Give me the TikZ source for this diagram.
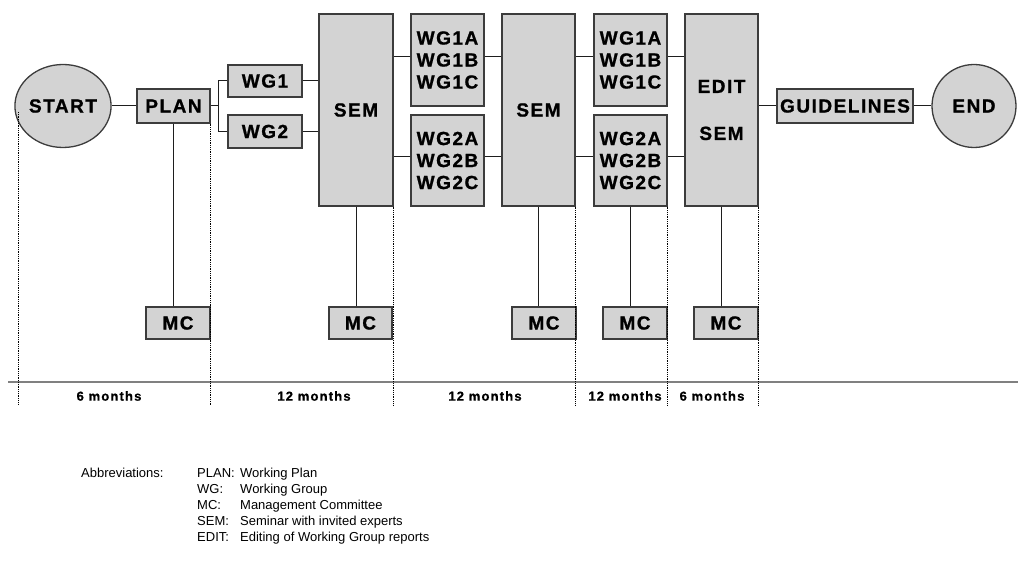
\documentclass[tikz,border=0pt]{standalone}
\usepackage{fontspec}
\setmainfont{Liberation Sans}
\newfontfamily\boxfont[LetterSpace=8,FakeBold=1]{Liberation Sans Bold}
\newfontfamily\monthfont[LetterSpace=9,FakeBold=0.8]{Liberation Sans Bold}
\usetikzlibrary{shapes.geometric}
\definecolor{boxfill}{RGB}{211,211,211}
\definecolor{boxline}{RGB}{60,60,60}
\definecolor{conn}{RGB}{30,30,30}
\definecolor{tline}{RGB}{128,128,128}
\tikzset{
  box/.style={draw=boxline, fill=boxfill, line width=1.3pt, inner sep=0pt,
    font=\boxfont\fontsize{19}{22}\selectfont, align=center, text=black},
  oval/.style={box, ellipse},
  conline/.style={draw=conn, line width=1pt},
  dotline/.style={draw=black, line width=0.8pt, dash pattern=on 0.9pt off 0.9pt},
  monthlbl/.style={font=\monthfont\fontsize{13}{14}\selectfont, inner sep=0pt},
}
\begin{document}
\begin{tikzpicture}[x=1pt, y=-1pt]
\useasboundingbox (0,0) rectangle (1018,569);
% main nodes
\node[oval, minimum width=92pt, minimum height=83pt] (start) at (63,106) {START};
\node[box, minimum width=73pt, minimum height=34pt] (plan) at (173.5,106) {PLAN};
\node[box, minimum width=74pt, minimum height=32pt] (wg1) at (265,81) {WG1};
\node[box, minimum width=74pt, minimum height=33pt] (wg2) at (265,131.5) {WG2};
\node[box, minimum width=74pt, minimum height=192pt] (sem1) at (356,110) {SEM};
\node[box, minimum width=73pt, minimum height=92pt] (wg1a) at (447.5,60) {WG1A\\WG1B\\WG1C};
\node[box, minimum width=73pt, minimum height=91pt] (wg2a) at (447.5,160.5) {WG2A\\WG2B\\WG2C};
\node[box, minimum width=73pt, minimum height=192pt] (sem2) at (538.5,110) {SEM};
\node[box, minimum width=73pt, minimum height=92pt] (wg1b) at (630.5,60) {WG1A\\WG1B\\WG1C};
\node[box, minimum width=73pt, minimum height=91pt] (wg2b) at (630.5,160.5) {WG2A\\WG2B\\WG2C};
\node[box, minimum width=73pt, minimum height=192pt] (edit) at (721.5,110) {EDIT\\[25pt]SEM};
\node[box, minimum width=136pt, minimum height=34pt] (guide) at (845,106) {GUIDELINES};
\node[oval, minimum width=84pt, minimum height=83pt] (end) at (974,106) {END};
% MC boxes
\node[box, minimum width=64pt, minimum height=32pt] (mc1) at (178,323) {MC};
\node[box, minimum width=63pt, minimum height=32pt] (mc2) at (360.5,323) {MC};
\node[box, minimum width=64pt, minimum height=32pt] (mc3) at (544,323) {MC};
\node[box, minimum width=64pt, minimum height=32pt] (mc4) at (635,323) {MC};
\node[box, minimum width=64pt, minimum height=32pt] (mc5) at (726,323) {MC};
% connectors
\draw[conline] (start.east) -- (plan.west);
\draw[conline] (plan.east) -- ++(8,0) coordinate (fork) |- (wg1.west);
\draw[conline] (fork) |- (wg2.west);
\draw[conline] (wg1.east) -- (wg1.east -| sem1.west);
\draw[conline] (wg2.east) -- (wg2.east -| sem1.west);
\draw[conline] ([yshift=3pt]wg1a.west) -- ([yshift=3pt]wg1a.west -| sem1.east);
\draw[conline] ([yshift=4pt]wg2a.west) -- ([yshift=4pt]wg2a.west -| sem1.east);
\draw[conline] ([yshift=3pt]wg1a.east) -- ([yshift=3pt]wg1a.east -| sem2.west);
\draw[conline] ([yshift=4pt]wg2a.east) -- ([yshift=4pt]wg2a.east -| sem2.west);
\draw[conline] ([yshift=3pt]wg1b.west) -- ([yshift=3pt]wg1b.west -| sem2.east);
\draw[conline] ([yshift=4pt]wg2b.west) -- ([yshift=4pt]wg2b.west -| sem2.east);
\draw[conline] ([yshift=3pt]wg1b.east) -- ([yshift=3pt]wg1b.east -| edit.west);
\draw[conline] ([yshift=4pt]wg2b.east) -- ([yshift=4pt]wg2b.east -| edit.west);
\draw[conline] (guide.west) -- (guide.west -| edit.east);
\draw[conline] (guide.east) -- (end.west);
% to MC
\draw[conline] (plan.south) -- (plan.south |- mc1.north);
\draw[conline] (sem1.south) -- (sem1.south |- mc2.north);
\draw[conline] (sem2.south) -- (sem2.south |- mc3.north);
\draw[conline] (wg2b.south) -- (wg2b.south |- mc4.north);
\draw[conline] (edit.south) -- (edit.south |- mc5.north);
% timeline
\draw[draw=tline, line width=2pt] (8,382) -- (1018,382);
% dotted dividers
\coordinate (d0t) at (18,112);
\coordinate (d0b) at (18,405);
\draw[dotline] (d0t) -- (d0b);
\draw[dotline] (plan.south east) -- (plan.south east |- d0b);
\draw[dotline] (sem1.south east) -- (sem1.south east |- d0b);
\draw[dotline] (sem2.south east) -- (sem2.south east |- d0b);
\draw[dotline] (wg2b.south east) -- (wg2b.south east |- d0b);
\draw[dotline] (edit.south east) -- (edit.south east |- d0b);
% month labels
\node[monthlbl] (m1) at (109,396) {6 months};
\node[monthlbl] (m2) at (314,396) {12 months};
\node[monthlbl] (m3) at (485,396) {12 months};
\node[monthlbl] (m4) at (625,396) {12 months};
\node[monthlbl] (m5) at (712,396) {6 months};
% abbreviations
\node[anchor=base west, inner sep=0pt, font=\fontsize{13}{16}\selectfont] (abbr) at (81,477.5) {Abbreviations:};
\node[anchor=base west, inner sep=0pt, font=\fontsize{13}{16}\selectfont] (abbrlist) at (197,477.5)
  {\begin{tabular}[t]{@{}p{43pt}@{}l@{}}
   PLAN: & Working Plan\\
   WG: & Working Group\\
   MC: & Management Committee\\
   SEM: & Seminar with invited experts\\
   EDIT: & Editing of Working Group reports
   \end{tabular}};
\end{tikzpicture}
\end{document}
